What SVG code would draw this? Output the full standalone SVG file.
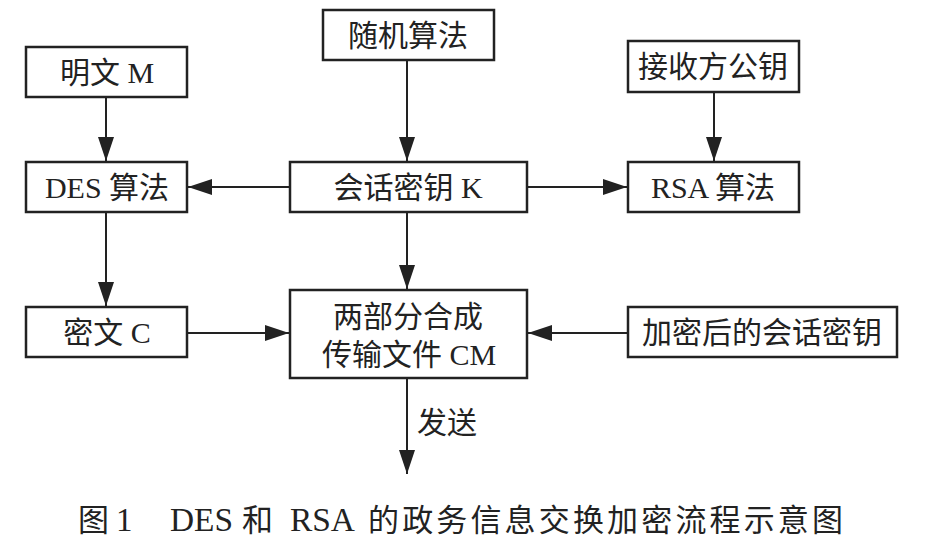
<svg xmlns="http://www.w3.org/2000/svg" width="932" height="548" viewBox="0 0 932 548">
<style>
.box{fill:#fff;stroke:#222;stroke-width:2.5}
.lbl{font-family:"Liberation Serif","Noto Sans CJK SC",serif;font-size:30px;fill:#222;text-anchor:middle}
.ln{stroke:#222;stroke-width:2;fill:none;marker-end:url(#ah)}
.cap{font-family:"Liberation Serif","Noto Sans CJK SC",serif;font-size:31px;fill:#222}
</style>
<defs>
<marker id="ah" markerUnits="userSpaceOnUse" markerWidth="26" markerHeight="17" refX="24" refY="8" orient="auto">
<path d="M0,0 L24,8 L0,16 z" fill="#222"/>
</marker>
</defs>
<rect width="932" height="548" fill="#fff"/>
<g id="connectors">
<line class="ln" x1="106" y1="98" x2="106" y2="161"/>
<line class="ln" x1="407" y1="61" x2="407" y2="161"/>
<line class="ln" x1="289" y1="187" x2="188" y2="187"/>
<line class="ln" x1="528" y1="187" x2="627" y2="187"/>
<line class="ln" x1="714" y1="93" x2="714" y2="161"/>
<line class="ln" x1="106" y1="213" x2="106" y2="306"/>
<line class="ln" x1="407" y1="213" x2="407" y2="289"/>
<line class="ln" x1="188" y1="333" x2="289" y2="333"/>
<line class="ln" x1="627" y1="333" x2="528" y2="333"/>
<line class="ln" x1="407" y1="379" x2="407" y2="474"/>
<text class="lbl" x="417" y="433" style="text-anchor:start">发送</text>
</g>
<g id="plaintext"><rect class="box" x="26" y="47" width="161" height="50"/><text class="lbl" x="107" y="83">明文 M</text></g>
<g id="des"><rect class="box" x="26" y="162" width="161" height="50"/><text class="lbl" x="107" y="198">DES 算法</text></g>
<g id="ciphertext"><rect class="box" x="26" y="307" width="161" height="50"/><text class="lbl" x="107" y="343">密文 C</text></g>
<g id="random"><rect class="box" x="323" y="10" width="171" height="50"/><text class="lbl" x="408" y="46">随机算法</text></g>
<g id="sessionkey"><rect class="box" x="290" y="162" width="237" height="50"/><text class="lbl" x="408" y="198">会话密钥 K</text></g>
<g id="combine"><rect class="box" x="290" y="290" width="237" height="88"/><text class="lbl" x="408" y="327">两部分合成</text><text class="lbl" x="409" y="365">传输文件 CM</text></g>
<g id="pubkey"><rect class="box" x="628" y="41" width="171" height="51"/><text class="lbl" x="713" y="77">接收方公钥</text></g>
<g id="rsa"><rect class="box" x="628" y="162" width="171" height="50"/><text class="lbl" x="713" y="198">RSA 算法</text></g>
<g id="encsessionkey"><rect class="box" x="628" y="307" width="269" height="50"/><text class="lbl" x="762" y="343">加密后的会话密钥</text></g>
<text class="cap" y="531"><tspan x="78">图</tspan><tspan x="116" font-size="33">1</tspan><tspan x="170" font-size="33" textLength="63" lengthAdjust="spacingAndGlyphs">DES</tspan><tspan x="242">和</tspan><tspan x="290" font-size="33" textLength="65" lengthAdjust="spacingAndGlyphs">RSA</tspan><tspan x="368" textLength="475" lengthAdjust="spacing">的政务信息交换加密流程示意图</tspan></text>
</svg>
